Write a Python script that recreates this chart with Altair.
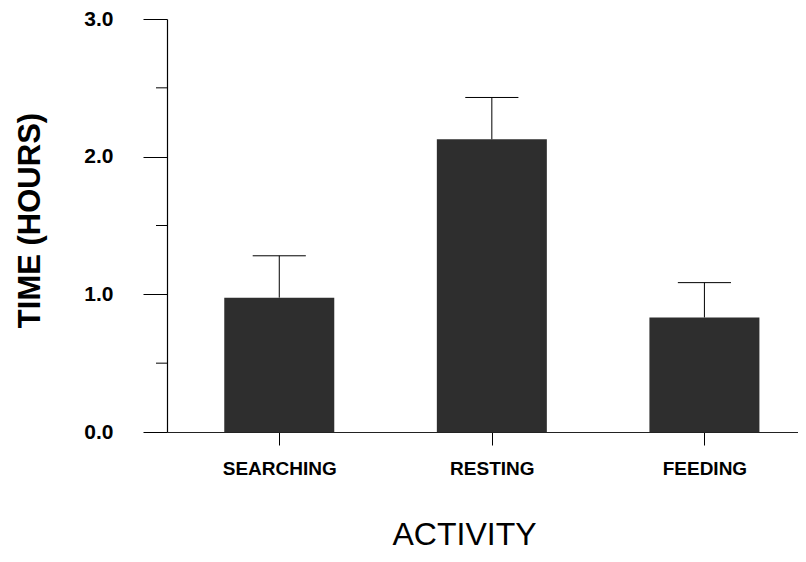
import altair as alt
import pandas as pd

categories = ["SEARCHING", "RESTING", "FEEDING"]
means = [0.976, 2.126, 0.832]
upper = [1.28, 2.43, 1.085]
y_ticks = [0.0, 1.0, 2.0, 3.0]
minor_ticks = [0.5, 1.5, 2.5]

df = pd.DataFrame({
    "cat": categories,
    "idx": list(range(len(categories))),
    "mean": means,
    "upper": upper,
})
df["capL"] = df["idx"] - 0.125
df["capR"] = df["idx"] + 0.125
minor = pd.DataFrame({"v": minor_ticks})

label_expr = "[" + ",".join("'" + c + "'" for c in categories) + "][datum.value]"

FONT = "Liberation Sans"

xscale = alt.Scale(domain=[-0.5046, 2.4167], nice=False, zero=False)
yscale = alt.Scale(domain=[0, 3], nice=False)

x_axis = alt.Axis(
    values=list(range(len(categories))),
    labelExpr=label_expr,
    title="ACTIVITY",
    titleFont=FONT, titleFontSize=32, titleFontWeight="normal", titleColor="black",
    titleX=297, titleY=112, titleAlign="center", titleBaseline="alphabetic",
    labelFont=FONT, labelFontSize=19, labelFontWeight="bold", labelColor="black",
    labelPadding=14, tickSize=13, tickColor="black", tickWidth=1,
    domainColor="#222", domainWidth=1, grid=False,
)
y_axis = alt.Axis(
    values=y_ticks, format=".1f",
    title="TIME (HOURS)",
    titleFont=FONT, titleFontSize=31, titleFontWeight="bold", titleColor="black",
    titleAngle=270, titleX=-128, titleY=201, titleAlign="center", titleBaseline="alphabetic",
    labelFont=FONT, labelFontSize=21, labelFontWeight="bold", labelColor="black",
    labelPadding=30, tickSize=24, tickColor="black", tickWidth=1,
    domainColor="black", domainWidth=1.2, grid=False,
)

base = alt.Chart(df)

bars = base.mark_bar(size=110, color="#2e2e2e").encode(
    x=alt.X("idx:Q", scale=xscale, axis=x_axis),
    y=alt.Y("mean:Q", scale=yscale, axis=y_axis),
)
err = base.mark_rule(color="black", strokeWidth=1).encode(
    x="idx:Q", y="mean:Q", y2="upper:Q"
)
caps = base.mark_rule(color="black", strokeWidth=1).encode(
    x="capL:Q", x2="capR:Q", y="upper:Q"
)
minor_rules = alt.Chart(minor).mark_rule(color="black", strokeWidth=1).encode(
    y="v:Q", x=alt.value(-11), x2=alt.value(0)
)

chart = alt.layer(bars, err, caps, minor_rules).properties(
    width=631, height=413,
    padding={"left": 159, "top": 11, "right": 0, "bottom": 122},
    autosize=alt.AutoSizeParams(type="none"),
).configure_view(stroke=None)

chart.save("out.html", embed_options={"renderer": "svg", "actions": False})
